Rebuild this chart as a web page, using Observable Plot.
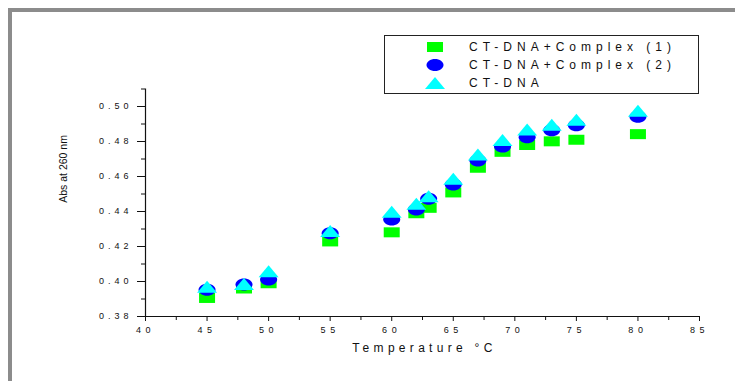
<!DOCTYPE html>
<html><head><meta charset="utf-8">
<script src="https://cdn.jsdelivr.net/npm/d3@7"></script>
<script src="https://cdn.jsdelivr.net/npm/@observablehq/plot@0.6"></script>
<style>
html,body{margin:0;padding:0;background:#fff;}
#wrap{position:relative;width:735px;height:381px;overflow:hidden;font-family:"Liberation Sans",Arial,sans-serif;background:#fff;}
#frame{position:absolute;left:8px;top:8px;width:800px;height:400px;border-top:4px solid #8c8c8c;border-left:4px solid #8c8c8c;}
#chart{position:absolute;left:0;top:0;}
#legend{position:absolute;left:384px;top:35px;width:313px;height:57px;border:1px solid #222;background:#fff;}
.lrow{position:absolute;left:0;width:313px;height:16px;}
.lrow svg{position:absolute;left:38px;top:0;}
.lrow span{position:absolute;left:84px;top:0;line-height:16px;font-size:12px;letter-spacing:5px;color:#111;white-space:nowrap;}
</style>
</head><body>
<div id="wrap"><div id="frame"></div><div id="chart"></div><div id="legend"></div></div>
<script>
// ---- data ----
const temps = [45, 48, 50, 55, 60, 62, 63, 65, 67, 69, 71, 73, 75, 80];
const complex1 = [0.3906, 0.3960, 0.3990, 0.4229, 0.4281, 0.4390, 0.4421, 0.4509, 0.4650, 0.4741, 0.4780, 0.4801, 0.4810, 0.4842];
const complex2 = [0.3953, 0.3983, 0.4011, 0.4276, 0.4354, 0.4411, 0.4473, 0.4554, 0.4691, 0.4771, 0.4825, 0.4865, 0.4893, 0.4941];
const ctdna = [0.3970, 0.3986, 0.4058, 0.4289, 0.4398, 0.4445, 0.4487, 0.4587, 0.4726, 0.4808, 0.4868, 0.4896, 0.4925, 0.4976];
const seriesNames = ["CT-DNA+Complex (1)", "CT-DNA+Complex (2)", "CT-DNA"];
const xTicks = [40, 45, 50, 55, 60, 65, 70, 75, 80, 85];
const xMinor = [42.5, 47.5, 52.5, 57.5, 62.5, 67.5, 72.5, 77.5, 82.5];
const yTicks = [0.38, 0.40, 0.42, 0.44, 0.46, 0.48, 0.50];
const yMinor = [0.39, 0.41, 0.43, 0.45, 0.47, 0.49, 0.51];
const xTitle = "Temperature °C";
const yTitle = "Abs at 260 nm";

// ---- symbols (stretched like the original) ----
const rectSym = {draw(c){ c.moveTo(-8,-5); c.lineTo(8,-5); c.lineTo(8,5); c.lineTo(-8,5); c.closePath(); }};
const ellSym = {draw(c){ const rx=8.5, ry=6, k=0.5523;
  c.moveTo(rx,0); c.bezierCurveTo(rx,ry*k,rx*k,ry,0,ry); c.bezierCurveTo(-rx*k,ry,-rx,ry*k,-rx,0);
  c.bezierCurveTo(-rx,-ry*k,-rx*k,-ry,0,-ry); c.bezierCurveTo(rx*k,-ry,rx,-ry*k,rx,0); c.closePath(); }};
const triSym = {draw(c){ c.moveTo(0,-6); c.lineTo(10,6); c.lineTo(-10,6); c.closePath(); }};
const colors = ["#00ff00", "#0000ff", "#00ffff"];
const symbols = [rectSym, ellSym, triSym];
const allSeries = [complex1, complex2, ctdna];

const tables = allSeries.map(vals => temps.map((t, i) => ({T: t, v: vals[i]})));
const fmtY = d3.format(".2f");

const plot = Plot.plot({
  width: 735, height: 381,
  marginLeft: 145, marginRight: 36, marginTop: 88.5, marginBottom: 65,
  style: {fontFamily: "'Liberation Sans', Arial, sans-serif", fontSize: "9px", color: "#111", background: "transparent"},
  x: {domain: [40, 85]},
  y: {domain: [0.38, 0.51]},
  marks: [
    Plot.axisX({ticks: xTicks, tickSize: 5, tickPadding: 5, tickFormat: d => String(d), label: null}),
    Plot.axisX({ticks: xMinor, tickSize: 4, text: null, label: null}),
    Plot.axisY({ticks: yTicks, tickSize: 8, tickPadding: 5, tickFormat: fmtY, label: null}),
    Plot.axisY({ticks: yMinor, tickSize: 4, text: null, label: null}),
    Plot.ruleY([0.38], {stroke: "#111", strokeWidth: 1.2}),
    Plot.ruleX([40], {stroke: "#111", strokeWidth: 1.2}),
    ...tables.map((tb, i) => Plot.dot(tb, {x: "T", y: "v", symbol: symbols[i], fill: colors[i], stroke: "none"})),
    Plot.text([xTitle], {frameAnchor: "bottom", dy: 35, dx: 2, fontSize: 12, fill: "#111"}),
    Plot.text([yTitle], {frameAnchor: "left", rotate: -90, dx: -82, dy: 0, fontSize: 10.5, fill: "#111"})
  ]
});
document.getElementById("chart").appendChild(plot);

// letter spacing like the original (by text content)
const xLabels = new Set(xTicks.map(String));
const yLabels = new Set(yTicks.map(fmtY));
plot.querySelectorAll("text").forEach(t => {
  const s = t.textContent;
  if (s === xTitle) t.style.letterSpacing = "4.3px";
  else if (xLabels.has(s)) t.style.letterSpacing = "4.6px";
  else if (yLabels.has(s)) t.style.letterSpacing = "4px";
  else t.style.letterSpacing = "0px";
});

// ---- legend ----
const legend = d3.select("#legend");
const rowCenters = [11.2, 28.8, 46.8];
seriesNames.forEach((name, i) => {
  const row = legend.append("div").attr("class", "lrow").style("top", (rowCenters[i] - 8) + "px");
  const s = row.append("svg").attr("width", 24).attr("height", 16);
  s.append("path").attr("transform", "translate(12,8)").attr("d", d3.symbol(symbols[i])()).attr("fill", colors[i]);
  row.append("span").text(name);
});
</script>
</body></html>
